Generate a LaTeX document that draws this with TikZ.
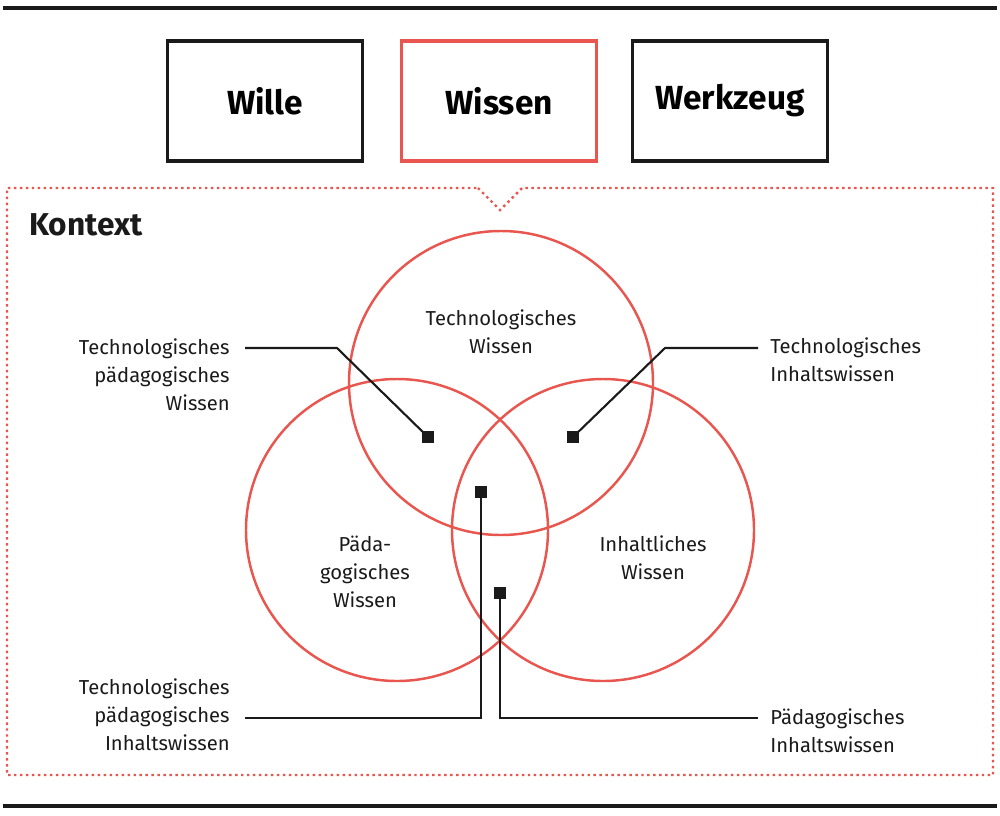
\documentclass[tikz,border=0pt]{standalone}
\usepackage{fontspec}
\setmainfont{Fira Sans}
\usetikzlibrary{positioning}
\definecolor{kred}{HTML}{E8564F}
\definecolor{kblack}{HTML}{1A1A1A}
\begin{document}
\begin{tikzpicture}[x=0.02cm,y=-0.02cm,
  box/.style={draw=kblack,line width=2.2pt,minimum width=3.9cm,minimum height=2.4cm,font=\fontsize{19}{22}\selectfont\bfseries,inner sep=0pt},
  ring/.style={draw=kred,line width=1.4pt},
  lbl/.style={font=\fontsize{11.5}{16}\selectfont,text=kblack,inner sep=0pt},
  lead/.style={draw=kblack,line width=1.2pt},
  dot/.style={fill=kblack,minimum size=0.24cm,inner sep=0pt}]

\useasboundingbox (0,0) rectangle (1000,815);

% rules
\draw[kblack,line width=2.8pt] (3,8) -- (997,8);
\draw[kblack,line width=2.8pt] (3,806) -- (997,806);

% boxes
\node[box] (wille) at (265,101) {Wille};
\node[box,draw=kred] (wissen) at (499,101) {Wissen};
\node[box] (werkzeug) at (730,101) {Werkzeug};

% context frame
\draw[kred,dotted,line width=1.4pt] (478,188) -- (500,210) -- (522,188) -- (993,188) -- (993,775) -- (7,775) -- (7,188) -- cycle;
\node[anchor=west,font=\fontsize{18}{22}\selectfont\bfseries,text=kblack,inner sep=0pt] (kontext) at (29,225) {Kontext};

% circles
\draw[ring] (501,383) circle (152);
\draw[ring] (397,530) circle (151);
\draw[ring] (603,530) circle (151);

\node[lbl,align=center] (tw) at (501,332) {Technologisches\\Wissen};
\node[lbl,align=center] (pw) at (365,572) {Päda-\\gogisches\\Wissen};
\node[lbl,align=center] (iw) at (653,558) {Inhaltliches\\Wissen};

% markers
\node[dot] (m1) at (428,437) {};
\node[dot] (m2) at (573,437) {};
\node[dot] (m3) at (481,492) {};
\node[dot] (m4) at (500,593) {};

% outer labels
\node[lbl,align=right,anchor=east] (tpw) at (230,375) {Technologisches\\pädagogisches\\Wissen};
\node[lbl,align=left,anchor=west] (tiw) at (770,360) {Technologisches\\Inhaltswissen};
\node[lbl,align=right,anchor=east] (tpiw) at (230,715) {Technologisches\\pädagogisches\\Inhaltswissen};
\node[lbl,align=left,anchor=west] (piw) at (770,731) {Pädagogisches\\Inhaltswissen};

\coordinate (c1) at (245,348);
\coordinate (c2) at (758,348);
\coordinate (c3) at (245,718);
\coordinate (c4) at (758,718);

\draw[lead] (c1) -- (337,348) -- (m1.center);
\draw[lead] (c2) -- (665,348) -- (m2.center);
\draw[lead] (c3) -- (481,718) -- (m3.center);
\draw[lead] (c4) -- (500,718) -- (m4.center);

\end{tikzpicture}
\end{document}
